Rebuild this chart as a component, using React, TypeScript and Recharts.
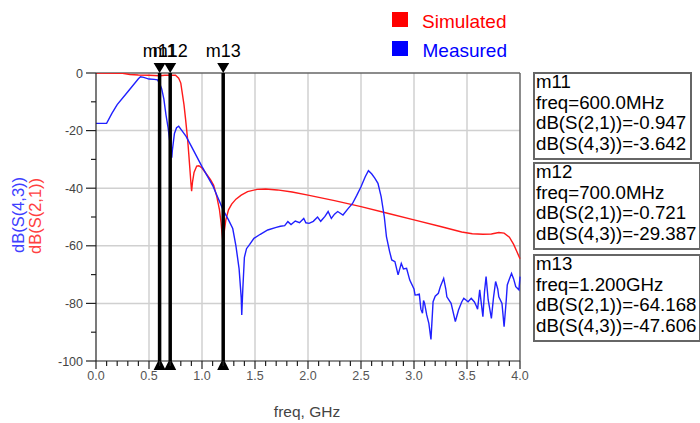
import React from "react";
import {
  LineChart,
  Line,
  XAxis,
  YAxis,
  CartesianGrid,
  ReferenceLine,
  ReferenceDot,
} from "recharts";

const FONT = "'Liberation Sans', Arial, sans-serif";

// [freq GHz, dB]
const simulated: [number, number][] = [
  [0, 0], [0.25, -0.1], [0.32, -0.5], [0.4, -0.7], [0.5, -0.8], [0.6, -0.947],
  [0.65, -0.8], [0.7, -0.721], [0.75, -0.8], [0.78, -1.8], [0.8, -3.5], [0.81, -6],
  [0.83, -11], [0.845, -16], [0.865, -23.3], [0.875, -28], [0.885, -33], [0.895, -38],
  [0.902, -41], [0.91, -38], [0.925, -34.5], [0.95, -32.3], [0.97, -32.2], [1.0, -33],
  [1.05, -35.5], [1.08, -37], [1.11, -39], [1.14, -43], [1.165, -47.5], [1.18, -52],
  [1.19, -56], [1.2, -60], [1.21, -55], [1.225, -51], [1.25, -47.5], [1.28, -45.5],
  [1.32, -43.8], [1.37, -42.4], [1.43, -41.2], [1.52, -40.4], [1.6, -40.3], [1.71, -40.6],
  [1.85, -41.3], [2.0, -42.4], [2.25, -44.3], [2.5, -46.4], [2.75, -48.7], [3.0, -51],
  [3.25, -53.3], [3.45, -55.2], [3.55, -55.8], [3.65, -56], [3.73, -55.9], [3.8, -55.4],
  [3.85, -55.6], [3.9, -57], [3.94, -59.5], [3.97, -62], [4.0, -64.5],
];

const measured: [number, number][] = [
  [0, -17.5], [0.1, -17.5], [0.15, -14], [0.2, -11], [0.3, -6.5], [0.4, -2],
  [0.42, -1.3], [0.45, -1.5], [0.5, -2.1], [0.55, -2.2], [0.58, -2.4], [0.6, -3.6],
  [0.62, -5.5], [0.64, -9], [0.66, -14.5], [0.68, -19], [0.7, -25], [0.715, -29.4],
  [0.72, -27], [0.74, -21], [0.76, -19], [0.78, -18.5], [0.8, -19.5], [0.85, -22],
  [0.9, -25.5], [1.0, -32.5], [1.1, -39], [1.2, -47.6], [1.25, -51], [1.29, -54],
  [1.32, -60], [1.35, -68], [1.37, -78], [1.375, -84], [1.385, -75], [1.4, -64],
  [1.42, -61], [1.45, -59.5], [1.49, -57.4], [1.55, -56], [1.62, -54.5], [1.7, -53.6],
  [1.74, -53.2], [1.78, -53], [1.81, -51.6], [1.84, -52.6], [1.88, -51.4], [1.92, -52],
  [1.96, -50.5], [1.98, -52], [2.01, -52.2], [2.05, -51.5], [2.09, -50], [2.12, -51.5],
  [2.16, -49.8], [2.19, -48.1], [2.22, -50.5], [2.25, -49], [2.28, -48.1], [2.33, -49.3],
  [2.38, -47], [2.42, -45.3], [2.46, -42.5], [2.5, -39.5], [2.54, -36], [2.57, -33.9],
  [2.6, -35], [2.63, -36.5], [2.66, -38.3], [2.69, -42.9], [2.72, -50], [2.74, -56.8],
  [2.77, -62], [2.79, -64.9], [2.82, -65.5], [2.85, -70.1], [2.88, -66.1], [2.9, -68],
  [2.93, -67.8], [2.96, -71.9], [3.0, -75], [3.01, -77.1], [3.03, -77], [3.05, -76.8],
  [3.065, -82], [3.08, -83.4], [3.09, -79], [3.1, -80], [3.12, -84], [3.14, -86.9],
  [3.16, -92.5], [3.18, -79.4], [3.2, -77.5], [3.23, -76.5], [3.25, -74], [3.28, -71.3],
  [3.3, -75], [3.31, -77.7], [3.35, -80], [3.39, -86.3], [3.42, -82.3], [3.45, -79.5],
  [3.47, -78.2], [3.51, -79.4], [3.54, -78.2], [3.57, -79.5], [3.59, -81.1], [3.6, -82],
  [3.62, -75.3], [3.635, -80], [3.65, -84.6], [3.665, -76], [3.68, -70.7], [3.7, -78.8],
  [3.715, -82], [3.73, -85.2], [3.75, -78], [3.77, -72.4], [3.79, -75], [3.8, -77.7],
  [3.83, -80], [3.85, -88.1], [3.87, -79], [3.88, -73.6], [3.9, -71.5], [3.92, -69.6],
  [3.94, -71.5], [3.96, -74.2], [3.99, -75.3], [4.0, -70.7],
];

const xMajorTicks = [0, 0.5, 1, 1.5, 2, 2.5, 3, 3.5, 4];
const xTicks = Array.from({ length: 41 }, (_, i) => i / 10);
const yTicks = [-100, -90, -80, -70, -60, -50, -40, -30, -20, -10, 0];
const yLabelTicks = [-100, -80, -60, -40, -20, 0];
const gridX = [0.5, 1, 1.5, 2, 2.5, 3, 3.5];
const gridY = [-80, -60, -40, -20];

const markerNames = ["m11", "m12", "m13"];
const markerFreqs = [0.6, 0.7, 1.2];
const markerFreqText = ["600.0MHz", "700.0MHz", "1.200GHz"];
const markerS21 = ["-0.947", "-0.721", "-64.168"];
const markerS43 = ["-3.642", "-29.387", "-47.606"];

const simData = simulated.map(([f, d]) => ({ f, d }));
const measData = measured.map(([f, d]) => ({ f, d }));

function XTick(props: any) {
  const { x, y, payload } = props;
  const v = payload.value as number;
  const major = xMajorTicks.some((t) => Math.abs(t - v) < 1e-6);
  return (
    <g>
      <line x1={x} x2={x} y1={y} y2={y + (major ? 8 : 5)} stroke="#222" strokeWidth={1.2} />
      {major && (
        <text x={x} y={y + 19} textAnchor="middle" fontSize={12.5} fill="#555" fontFamily={FONT}>
          {v.toFixed(1)}
        </text>
      )}
    </g>
  );
}

function YTick(props: any) {
  const { x, y, payload } = props;
  const v = payload.value as number;
  const major = yLabelTicks.includes(v);
  return (
    <g>
      <line x1={x - (major ? 10 : 5)} x2={x} y1={y} y2={y} stroke="#222" strokeWidth={1.2} />
      {major && (
        <text x={x - 13} y={y + 4.5} textAnchor="end" fontSize={12.5} fill="#444" fontFamily={FONT}>
          {v}
        </text>
      )}
    </g>
  );
}

function TopMarker(props: any) {
  const { cx, cy, label } = props;
  return (
    <g>
      <polygon points={`${cx - 6},${cy - 10} ${cx + 6},${cy - 10} ${cx},${cy}`} fill="#000" />
      <text x={cx} y={cy - 16} textAnchor="middle" fontSize={18} fill="#000" fontFamily={FONT}>
        {label}
      </text>
    </g>
  );
}

function BottomMarker(props: any) {
  const { cx, cy } = props;
  return <polygon points={`${cx},${cy - 3} ${cx - 6},${cy + 9} ${cx + 6},${cy + 9}`} fill="#000" />;
}

const boxTops = [73, 163, 255];
const boxWidths = [157, 166, 166];

export default function App() {
  return (
    <div
      style={{
        position: "absolute",
        left: 0,
        top: 0,
        width: 700,
        height: 423,
        overflow: "hidden",
        background: "#fff",
      }}
    >
      <LineChart
        width={700}
        height={423}
        margin={{ top: 73, right: 180, bottom: 32, left: 36 }}
        style={{ fontFamily: FONT }}
      >
        <CartesianGrid
          stroke="#d0d0d0"
          strokeWidth={1.5}
          verticalValues={gridX}
          horizontalValues={gridY}
        />
        <XAxis
          type="number"
          dataKey="f"
          domain={[0, 4]}
          ticks={xTicks}
          interval={0}
          tickSize={0}
          tickMargin={0}
          height={30}
          axisLine={{ stroke: "#222", strokeWidth: 1.2 }}
          tick={<XTick />}
        />
        <YAxis
          type="number"
          domain={[-100, 0]}
          ticks={yTicks}
          interval={0}
          tickSize={0}
          tickMargin={0}
          width={60}
          allowDataOverflow
          axisLine={{ stroke: "#222", strokeWidth: 1.2 }}
          tick={<YTick />}
        />
        <ReferenceLine y={0} stroke="#666" strokeWidth={1.5} />
        <ReferenceLine x={4} stroke="#666" strokeWidth={1.5} />
        <Line
          data={simData}
          dataKey="d"
          type="linear"
          stroke="#ff1a1a"
          strokeWidth={1.4}
          dot={false}
          isAnimationActive={false}
        />
        <Line
          data={measData}
          dataKey="d"
          type="linear"
          stroke="#2020ff"
          strokeWidth={1.4}
          dot={false}
          isAnimationActive={false}
        />
        {markerFreqs.map((f, i) => (
          <ReferenceLine key={"l" + i} x={f} stroke="#000" strokeWidth={3.5} />
        ))}
        {markerFreqs.map((f, i) => (
          <ReferenceDot
            key={"t" + i}
            x={f}
            y={0}
            r={6}
            ifOverflow="visible"
            shape={(p: any) => <TopMarker {...p} label={markerNames[i]} />}
          />
        ))}
        {markerFreqs.map((f, i) => (
          <ReferenceDot
            key={"b" + i}
            x={f}
            y={-100}
            r={6}
            ifOverflow="visible"
            shape={(p: any) => <BottomMarker {...p} />}
          />
        ))}
      </LineChart>

      <svg
        width={700}
        height={423}
        style={{ position: "absolute", left: 0, top: 0, pointerEvents: "none" }}
        fontFamily={FONT}
      >
        {/* legend */}
        <rect x={392} y={12} width={16} height={15} fill="#ff0000" />
        <text x={422} y={27.5} fontSize={19} fill="#ff0000">Simulated</text>
        <rect x={392} y={41} width={16} height={15} fill="#0000ff" />
        <text x={422.5} y={56.5} fontSize={19} fill="#0000ff">Measured</text>

        {/* y axis title */}
        <text transform="translate(24,215) rotate(-90)" textAnchor="middle" fontSize={16.5} fill="#4040ff">
          dB(S(4,3))
        </text>
        <text transform="translate(41,216) rotate(-90)" textAnchor="middle" fontSize={16.5} fill="#ff4040">
          dB(S(2,1))
        </text>

        {/* x axis title */}
        <text x={307} y={417} textAnchor="middle" fontSize={15.5} fill="#444">freq, GHz</text>

        {/* marker readouts */}
        {markerNames.map((m, i) => {
          const top = boxTops[i];
          return (
            <g key={m}>
              <rect x={534} y={top} width={boxWidths[i]} height={86} fill="#fff" stroke="#666" strokeWidth={2} />
              <text x={536} y={top + 15} fontSize={18.7} fill="#000">{m}</text>
              <text x={536} y={top + 35.5} fontSize={18.7} fill="#000">freq={markerFreqText[i]}</text>
              <text x={536} y={top + 56} fontSize={18.7} fill="#000">dB(S(2,1))={markerS21[i]}</text>
              <text x={536} y={top + 76.5} fontSize={18.7} fill="#000">dB(S(4,3))={markerS43[i]}</text>
            </g>
          );
        })}
      </svg>
    </div>
  );
}
